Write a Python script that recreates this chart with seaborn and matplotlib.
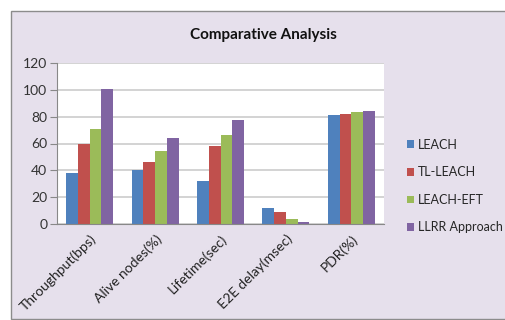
import matplotlib
matplotlib.use("Agg")
import matplotlib.pyplot as plt
from matplotlib.patches import Rectangle
import seaborn as sns
import pandas as pd
import numpy as np

categories = ["Throughput(bps)", "Alive nodes(%)", "Lifetime(sec)",
              "E2E delay(msec)", "PDR(%)"]
methods = ["LEACH", "TL-LEACH", "LEACH-EFT", "LLRR Approach"]
leach = [38, 40, 32, 12, 81.5]
tl_leach = [60, 46, 58, 9, 82.2]
leach_eft = [70.5, 54.5, 66, 4.2, 83.7]
llrr = [100.5, 64, 77.3, 1.5, 84.4]
colors = ["#4F81BD", "#C0504D", "#9BBB59", "#8064A2"]
yticks = [0, 20, 40, 60, 80, 100, 120]

rows = []
for m, vals in zip(methods, [leach, tl_leach, leach_eft, llrr]):
    for c, v in zip(categories, vals):
        rows.append({"Metric": c, "Method": m, "Value": v})
df = pd.DataFrame(rows)

sns.set_theme(style="white")
plt.rcParams["font.family"] = ["Lato", "DejaVu Sans"]

fig = plt.figure(figsize=(5.05, 3.20), dpi=100)
fig.patch.set_facecolor("white")
# chart area panel with thin grey frame, kept behind the axes
panel = Rectangle((10.5 / 505, 1.5 / 320), 1.2, 307.5 / 320,
                  transform=fig.transFigure, facecolor="#E6E0EC",
                  edgecolor="#8C8C8C", linewidth=1.0, zorder=-10)
fig.patches.append(panel)

ax = fig.add_axes([57 / 505, 1 - 224.3 / 320, 327 / 505, 161.6 / 320])
ax.set_zorder(1)
ax.set_facecolor("white")
sns.barplot(data=df, x="Metric", y="Value", hue="Method", palette=colors,
            width=0.72, gap=0, ax=ax, saturation=1, edgecolor="none",
            linewidth=0, legend=True)

ax.set_ylim(0, 120)
ax.set_xlim(-0.5, 4.5)
ax.set_yticks(yticks)
ax.set_yticklabels([str(t) for t in yticks], fontsize=10, color="#333333")
ax.yaxis.grid(True, color="#D0D0D0", linewidth=1.3)
ax.set_axisbelow(True)

ax.set_xticks(np.arange(len(categories)))
ax.set_xticklabels(categories, rotation=45, ha="right", rotation_mode="anchor",
                   fontsize=10, color="#222222")
ax.tick_params(axis="x", length=0, pad=6)
ax.set_xticks(np.arange(-0.5, len(categories)), minor=True)
ax.tick_params(axis="x", which="minor", length=5, color="#888888", width=0.8)
ax.tick_params(axis="y", length=5, color="#888888", width=0.8, pad=2, left=True)
ax.set_xlabel("")
ax.set_ylabel("")

for side in ["top", "right"]:
    ax.spines[side].set_visible(False)
for side in ["left", "bottom"]:
    ax.spines[side].set_color("#888888")
    ax.spines[side].set_linewidth(0.8)

fig.text(263 / 505, 1 - 35 / 320, "Comparative Analysis", ha="center",
         va="center", fontsize=11, fontweight="bold", color="#111111")

handles, labels = ax.get_legend_handles_labels()
ax.legend(handles, labels, loc="center left", bbox_to_anchor=(407 / 505, 1 - 186 / 320),
          bbox_transform=fig.transFigure, frameon=False, fontsize=9,
          handlelength=0.55, handleheight=0.55, handletextpad=0.35,
          labelspacing=1.25, borderaxespad=0, borderpad=0)

fig.savefig("out.png", dpi=100)
